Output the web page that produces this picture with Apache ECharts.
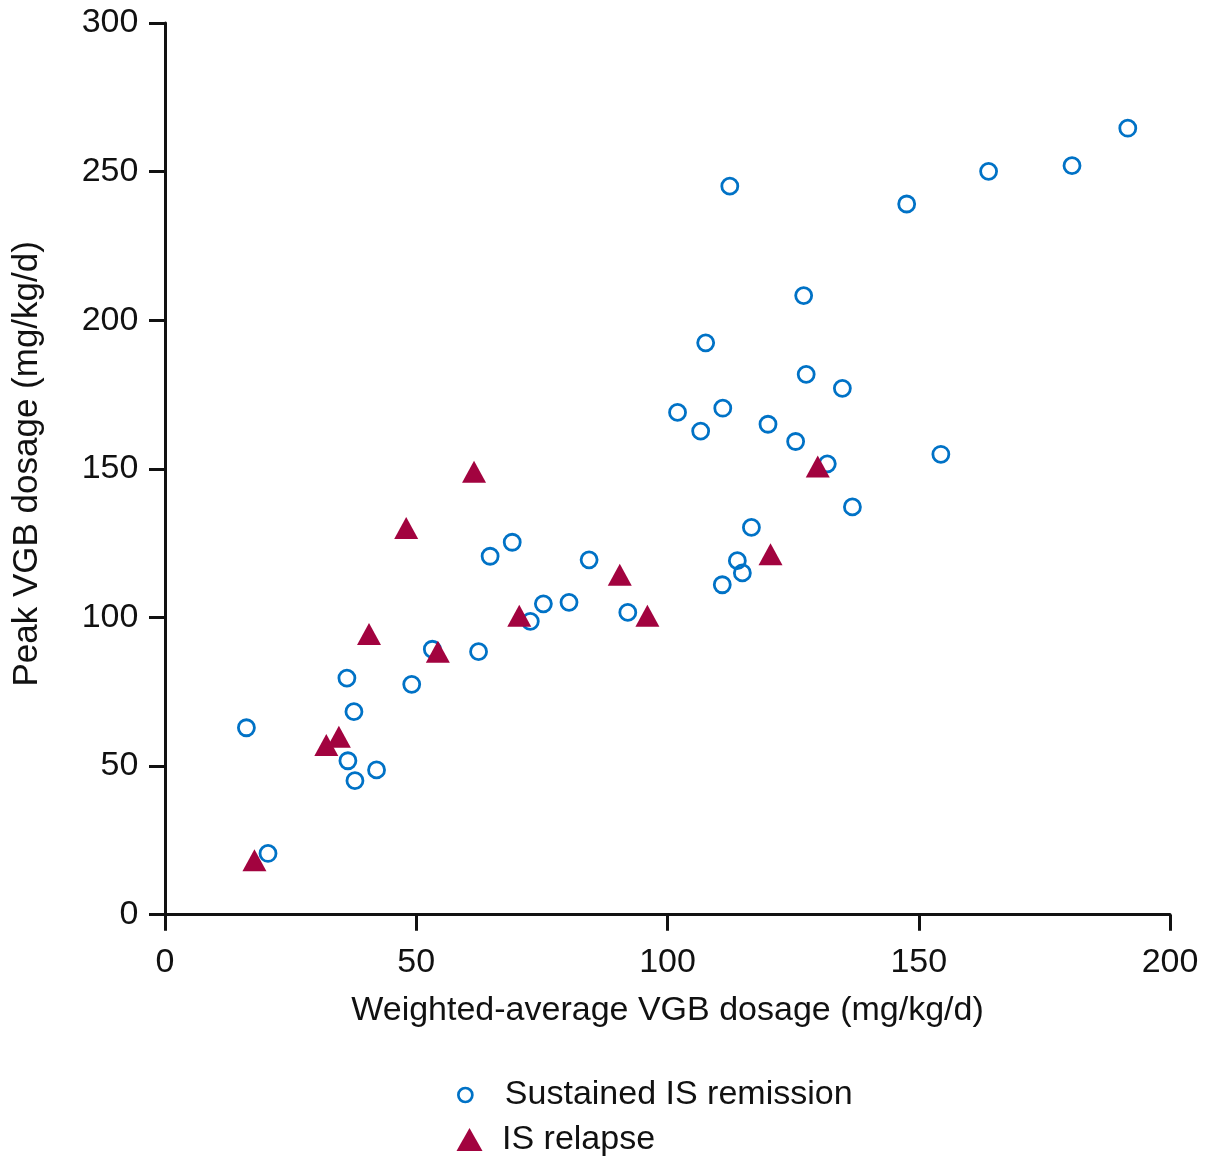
<!DOCTYPE html>
<html>
<head>
<meta charset="utf-8">
<script src="https://cdn.jsdelivr.net/npm/echarts@6/dist/echarts.min.js"></script>
<style>
html,body{margin:0;padding:0;background:#fff;}
#chart{width:1218px;height:1167px;}
</style>
</head>
<body>
<div id="chart"></div>
<script>
// Sustained IS remission (open circles)
const remissionX = [16.2, 20.5, 36.2, 37.6, 36.4, 37.8, 42.1, 49.1, 53.2, 62.4, 64.7, 69.1, 72.7, 75.3, 80.4, 84.4, 92.1,
  191.6, 180.5, 163.9, 147.6, 112.4, 127.1, 107.6, 127.6, 134.8, 102.0, 111.0, 106.6, 120.0, 125.5, 131.8, 154.4, 136.8, 116.7, 113.9, 114.9, 110.9];
const remissionY = [62.9, 20.6, 79.6, 68.3, 51.8, 45.1, 48.7, 77.5, 89.3, 88.5, 120.6, 125.3, 98.7, 104.6, 105.1, 119.4, 101.7,
  264.6, 252.0, 250.1, 239.1, 245.1, 208.3, 192.4, 181.8, 177.1, 169.0, 170.4, 162.7, 165.0, 159.2, 151.7, 154.9, 137.2, 130.3, 119.1, 115.0, 111.0];
// IS relapse (filled triangles)
const relapseX = [17.8, 32.1, 34.6, 40.6, 48.0, 54.3, 61.5, 70.5, 90.5, 96.0, 120.5, 129.9];
const relapseY = [18.3, 57.1, 59.9, 94.4, 130.1, 88.5, 149.0, 100.6, 114.4, 100.6, 121.3, 150.8];

const seriesNames = ['Sustained IS remission', 'IS relapse'];
const xTitle = 'Weighted-average VGB dosage (mg/kg/d)';
const yTitle = 'Peak VGB dosage (mg/kg/d)';

const remissionData = remissionX.map((x, i) => [x, remissionY[i]]);
const relapseData = relapseX.map((x, i) => [x, relapseY[i]]);

const BLUE = '#0072C6';
const RED = '#A2033F';
const INK = '#111111';
const FONT = 'Liberation Sans, Arial, sans-serif';

const chart = echarts.init(document.getElementById('chart'));
const axisCommon = {
  axisLine: { show: true, onZero: false, lineStyle: { color: INK, width: 3 } },
  axisTick: { show: true, inside: false, length: 16, lineStyle: { color: INK, width: 3 } },
  splitLine: { show: false },
  nameLocation: 'middle'
};
chart.setOption({
  animation: false,
  backgroundColor: '#fff',
  grid: { left: 165, right: 48, top: 23, bottom: 252.3 },
  xAxis: Object.assign({}, axisCommon, {
    type: 'value', min: 0, max: 200, interval: 50,
    name: xTitle, nameGap: 79,
    nameTextStyle: { fontFamily: FONT, fontSize: 34, color: INK },
    axisLabel: { margin: 30.5, fontFamily: FONT, fontSize: 34, color: INK }
  }),
  yAxis: Object.assign({}, axisCommon, {
    type: 'value', min: 0, max: 300, interval: 50,
    name: yTitle, nameGap: 120, nameRotate: 90,
    nameTextStyle: { fontFamily: FONT, fontSize: 35, color: INK, padding: [0, 0, 0, 10] },
    axisLabel: { margin: 26.6, fontFamily: FONT, fontSize: 34, color: INK }
  }),
  legend: [
    {
      data: [seriesNames[0]], orient: 'vertical', left: 457, top: 1078, padding: 0,
      icon: 'circle', itemWidth: 14, itemHeight: 14,
      itemStyle: { color: 'rgba(0,0,0,0)', borderColor: BLUE, borderWidth: 2.7 },
      textStyle: { fontFamily: FONT, fontSize: 34, color: INK, lineHeight: 34, padding: [0, 0, 0, 27.5] },
      selectedMode: false
    },
    {
      data: [seriesNames[1]], orient: 'vertical', left: 456.5, top: 1122.5, padding: 0,
      icon: 'triangle', itemWidth: 26, itemHeight: 23,
      itemStyle: { color: RED, borderWidth: 0 },
      textStyle: { fontFamily: FONT, fontSize: 34, color: INK, lineHeight: 34, padding: [0, 0, 0, 14.5] },
      selectedMode: false
    }
  ],
  series: [
    {
      name: seriesNames[0], type: 'scatter', data: remissionData,
      symbol: 'circle', symbolSize: 16,
      itemStyle: { color: 'rgba(0,0,0,0)', borderColor: BLUE, borderWidth: 2.8, opacity: 1 },
      emphasis: { disabled: true }, z: 2
    },
    {
      name: seriesNames[1], type: 'scatter', data: relapseData,
      symbol: 'triangle', symbolSize: [24, 22],
      itemStyle: { color: RED, opacity: 1 },
      emphasis: { disabled: true }, z: 3
    }
  ]
});
</script>
</body>
</html>
